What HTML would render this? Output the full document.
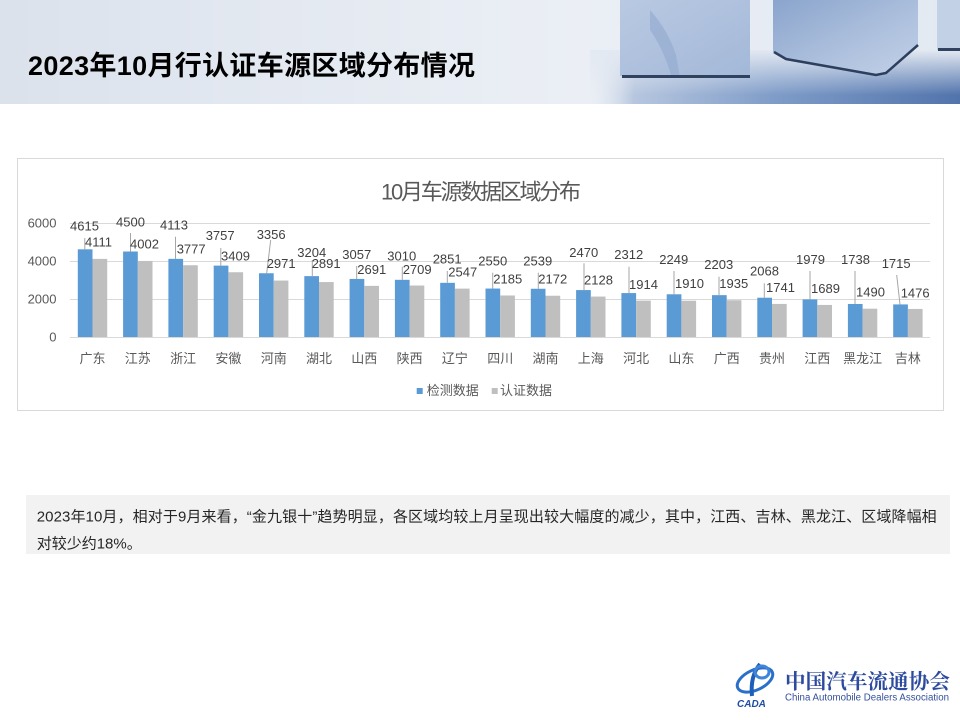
<!DOCTYPE html>
<html><head><meta charset="utf-8"><style>
html,body{margin:0;padding:0;background:#fff;}
svg{display:block;}
text{font-family:"Liberation Sans","Noto Sans CJK SC",sans-serif;}
</style></head><body>
<svg width="960" height="720" viewBox="0 0 960 720" xmlns="http://www.w3.org/2000/svg">
<defs>
<linearGradient id="hdr" x1="0" y1="0" x2="1" y2="0">
<stop offset="0" stop-color="#dbe2ec"/><stop offset="0.35" stop-color="#e5eaf2"/><stop offset="0.6" stop-color="#ebeff5"/><stop offset="1" stop-color="#e2e9f2"/>
</linearGradient>
<linearGradient id="floorH" x1="590" y1="0" x2="960" y2="0" gradientUnits="userSpaceOnUse">
<stop offset="0" stop-color="#dfe6f0" stop-opacity="0"/><stop offset="0.12" stop-color="#b6c6df"/><stop offset="0.5" stop-color="#7f9cc8"/><stop offset="1" stop-color="#5274ac"/>
</linearGradient>
<linearGradient id="floorV" x1="0" y1="50" x2="0" y2="95" gradientUnits="userSpaceOnUse">
<stop offset="0" stop-color="#e3e9f2" stop-opacity="1"/><stop offset="1" stop-color="#e3e9f2" stop-opacity="0"/>
</linearGradient>
<linearGradient id="c1" x1="0" y1="0" x2="1" y2="1">
<stop offset="0" stop-color="#b9c9e2"/><stop offset="1" stop-color="#a3b8d8"/>
</linearGradient>
<linearGradient id="c2" x1="0" y1="0" x2="1" y2="1">
<stop offset="0" stop-color="#8aa4cd"/><stop offset="0.5" stop-color="#a9bddb"/><stop offset="1" stop-color="#c3d1e8"/>
</linearGradient>
</defs>

<!-- header -->
<rect x="0" y="0" width="960" height="104" fill="url(#hdr)"/>
<rect x="590" y="50" width="370" height="54" fill="url(#floorH)"/>
<rect x="590" y="50" width="370" height="45" fill="url(#floorV)"/>
<!-- cube 1 -->
<rect x="620" y="0" width="130" height="76" fill="url(#c1)"/>
<path d="M650 10 Q668 30 676 55 L680 78 L672 78 Q664 50 650 30 Z" fill="#96acd0" opacity="0.7"/>
<rect x="622" y="75" width="128" height="3" fill="#2f4260"/>
<!-- cube 2 -->
<polygon points="773,0 773,52 785,59 876,75 886,73 918,45 918,0" fill="url(#c2)"/>
<polyline points="774,52 786,59 876,75 886,73 918,45" fill="none" stroke="#2d3f5e" stroke-width="2.5"/>
<!-- cube 3 -->
<rect x="937" y="0" width="23" height="50" fill="#c3d1e6"/>
<rect x="938" y="48" width="22" height="3" fill="#2f4260"/>

<text x="28" y="75" font-size="27" font-weight="bold" fill="#000" textLength="447">2023年10月行认证车源区域分布情况</text>

<!-- chart box -->
<rect x="17.5" y="158.5" width="926" height="252" fill="#fff" stroke="#d9d9d9" stroke-width="1"/>
<text x="481" y="199.5" font-size="22" fill="#595959" text-anchor="middle" textLength="200">10月车源数据区域分布</text>

<!-- gridlines -->
<g stroke="#d9d9d9" stroke-width="1">
<line x1="70" y1="223.5" x2="930" y2="223.5"/>
<line x1="70" y1="261.5" x2="930" y2="261.5"/>
<line x1="70" y1="299.5" x2="930" y2="299.5"/>
<line x1="70" y1="337.5" x2="930" y2="337.5"/>
</g>
<g font-size="13" fill="#595959" text-anchor="end">
<text x="56.5" y="227.7">6000</text>
<text x="56.5" y="265.7">4000</text>
<text x="56.5" y="303.7">2000</text>
<text x="56.5" y="341.7">0</text>
</g>

<!-- blue bars -->
<g fill="#5b9bd5">
<rect x="77.8" y="249.31" width="14.7" height="87.69"/>
<rect x="123.1" y="251.5" width="14.7" height="85.5"/>
<rect x="168.4" y="258.85" width="14.7" height="78.15"/>
<rect x="213.7" y="265.62" width="14.7" height="71.38"/>
<rect x="259.0" y="273.24" width="14.7" height="63.76"/>
<rect x="304.3" y="276.12" width="14.7" height="60.88"/>
<rect x="349.6" y="278.92" width="14.7" height="58.08"/>
<rect x="394.9" y="279.81" width="14.7" height="57.19"/>
<rect x="440.2" y="282.83" width="14.7" height="54.17"/>
<rect x="485.5" y="288.55" width="14.7" height="48.45"/>
<rect x="530.8" y="288.76" width="14.7" height="48.24"/>
<rect x="576.1" y="290.07" width="14.7" height="46.93"/>
<rect x="621.4" y="293.07" width="14.7" height="43.93"/>
<rect x="666.7" y="294.27" width="14.7" height="42.73"/>
<rect x="712.0" y="295.14" width="14.7" height="41.86"/>
<rect x="757.3" y="297.71" width="14.7" height="39.29"/>
<rect x="802.6" y="299.4" width="14.7" height="37.6"/>
<rect x="847.9" y="303.98" width="14.7" height="33.02"/>
<rect x="893.2" y="304.41" width="14.7" height="32.59"/>
</g>
<!-- gray bars -->
<g fill="#bfbfbf">
<rect x="92.5" y="258.89" width="14.7" height="78.11"/>
<rect x="137.8" y="260.96" width="14.7" height="76.04"/>
<rect x="183.1" y="265.24" width="14.7" height="71.76"/>
<rect x="228.4" y="272.23" width="14.7" height="64.77"/>
<rect x="273.7" y="280.55" width="14.7" height="56.45"/>
<rect x="319.0" y="282.07" width="14.7" height="54.93"/>
<rect x="364.3" y="285.87" width="14.7" height="51.13"/>
<rect x="409.6" y="285.53" width="14.7" height="51.47"/>
<rect x="454.9" y="288.61" width="14.7" height="48.39"/>
<rect x="500.2" y="295.48" width="14.7" height="41.52"/>
<rect x="545.5" y="295.73" width="14.7" height="41.27"/>
<rect x="590.8" y="296.57" width="14.7" height="40.43"/>
<rect x="636.1" y="300.63" width="14.7" height="36.37"/>
<rect x="681.4" y="300.71" width="14.7" height="36.29"/>
<rect x="726.7" y="300.23" width="14.7" height="36.77"/>
<rect x="772.0" y="303.92" width="14.7" height="33.08"/>
<rect x="817.3" y="304.91" width="14.7" height="32.09"/>
<rect x="862.6" y="308.69" width="14.7" height="28.31"/>
<rect x="907.9" y="308.96" width="14.7" height="28.04"/>
</g>

<!-- leader lines -->
<g stroke="#a6a6a6" stroke-width="1" fill="none">
<line x1="84.8" y1="238" x2="84.8" y2="249.3"/>
<line x1="130.5" y1="233" x2="130.5" y2="251.5"/>
<line x1="175.5" y1="236.7" x2="175.5" y2="258.9"/>
<line x1="220.8" y1="248" x2="220.8" y2="265.6"/>
<line x1="270.7" y1="240" x2="266.7" y2="273.2"/>
<line x1="312.3" y1="260" x2="312.3" y2="276.1"/>
<line x1="356.7" y1="266" x2="356.7" y2="278.9"/>
<line x1="402.3" y1="266.7" x2="402.3" y2="279.8"/>
<line x1="447.3" y1="271" x2="447.3" y2="282.8"/>
<line x1="492.7" y1="272.7" x2="492.7" y2="288.5"/>
<line x1="538.3" y1="272.7" x2="538.3" y2="288.8"/>
<line x1="584" y1="263.3" x2="584" y2="290"/>
<line x1="629" y1="266.7" x2="629" y2="293"/>
<line x1="674" y1="271" x2="674" y2="294.3"/>
<line x1="719" y1="276.7" x2="719" y2="295.1"/>
<line x1="764.3" y1="283.3" x2="764.3" y2="297.7"/>
<line x1="810" y1="271" x2="810" y2="299.4"/>
<line x1="855" y1="271" x2="855" y2="304"/>
<line x1="896.7" y1="275" x2="900" y2="304.4"/>
</g>

<!-- data labels -->
<g font-size="13" fill="#404040">
<text x="70" y="230.7">4615</text><text x="85" y="246.7">4111</text>
<text x="116" y="226.7">4500</text><text x="130" y="248.7">4002</text>
<text x="160" y="229.4">4113</text><text x="176.7" y="253.7">3777</text>
<text x="205.7" y="240">3757</text><text x="221" y="260.7">3409</text>
<text x="256.7" y="239">3356</text><text x="266.7" y="268">2971</text>
<text x="297.3" y="257">3204</text><text x="311.7" y="268">2891</text>
<text x="342.3" y="259">3057</text><text x="357.3" y="274">2691</text>
<text x="387.3" y="260.7">3010</text><text x="402.7" y="274">2709</text>
<text x="432.7" y="263.7">2851</text><text x="448.3" y="276.7">2547</text>
<text x="478.3" y="265.4">2550</text><text x="493.3" y="283.7">2185</text>
<text x="523.3" y="265.4">2539</text><text x="538.3" y="283.7">2172</text>
<text x="569.3" y="257">2470</text><text x="584" y="284.7">2128</text>
<text x="614.3" y="259">2312</text><text x="629" y="289">1914</text>
<text x="659.3" y="264">2249</text><text x="675" y="288">1910</text>
<text x="704.3" y="269">2203</text><text x="719.3" y="288">1935</text>
<text x="750" y="275.7">2068</text><text x="766" y="292">1741</text>
<text x="796" y="264">1979</text><text x="811" y="293">1689</text>
<text x="841" y="264">1738</text><text x="856" y="296.4">1490</text>
<text x="881.7" y="268">1715</text><text x="900.7" y="297.4">1476</text>
</g>

<!-- x labels -->
<g font-size="13" fill="#595959" text-anchor="middle">
<text x="92.5" y="363">广东</text>
<text x="137.8" y="363">江苏</text>
<text x="183.1" y="363">浙江</text>
<text x="228.4" y="363">安徽</text>
<text x="273.7" y="363">河南</text>
<text x="319.0" y="363">湖北</text>
<text x="364.3" y="363">山西</text>
<text x="409.6" y="363">陕西</text>
<text x="454.9" y="363">辽宁</text>
<text x="500.2" y="363">四川</text>
<text x="545.5" y="363">湖南</text>
<text x="590.8" y="363">上海</text>
<text x="636.1" y="363">河北</text>
<text x="681.4" y="363">山东</text>
<text x="726.7" y="363">广西</text>
<text x="772.0" y="363">贵州</text>
<text x="817.3" y="363">江西</text>
<text x="862.6" y="363">黑龙江</text>
<text x="907.9" y="363">吉林</text>
</g>

<!-- legend -->
<rect x="416.7" y="388" width="6" height="6" fill="#5b9bd5"/>
<text x="426.7" y="395" font-size="13" fill="#595959">检测数据</text>
<rect x="491.7" y="388" width="6" height="6" fill="#bfbfbf"/>
<text x="500" y="395" font-size="13" fill="#595959">认证数据</text>

<!-- text box -->
<rect x="26" y="495" width="924" height="59" fill="#f2f2f2"/>
<text x="36.7" y="521.5" font-size="15" fill="#262626" textLength="900">2023年10月，相对于9月来看，“金九银十”趋势明显，各区域均较上月呈现出较大幅度的减少，其中，江西、吉林、黑龙江、区域降幅相</text>
<text x="36.7" y="548.5" font-size="15" fill="#262626">对较少约18%。</text>

<!-- logo -->
<g>
<ellipse cx="755" cy="680" rx="19" ry="10" fill="none" stroke="#2a6fc9" stroke-width="3" transform="rotate(-25 755 680)"/>
<path d="M760 664 Q750 676 752 696" fill="none" stroke="#1d5fb8" stroke-width="4"/>
<ellipse cx="762" cy="672" rx="7" ry="6" fill="none" stroke="#3d86d8" stroke-width="3"/>
<text x="737" y="707" font-size="10" font-style="italic" font-weight="bold" fill="#1f4fa3">CADA</text>
</g>
<text x="785" y="688.5" font-size="20.6" font-weight="bold" fill="#2c4a9e" textLength="165" style="font-family:'Liberation Serif','Noto Serif CJK SC',serif;">中国汽车流通协会</text>
<text x="785" y="700.5" font-size="9.7" fill="#34509c" textLength="164">China Automobile Dealers Association</text>
</svg>
</body></html>
